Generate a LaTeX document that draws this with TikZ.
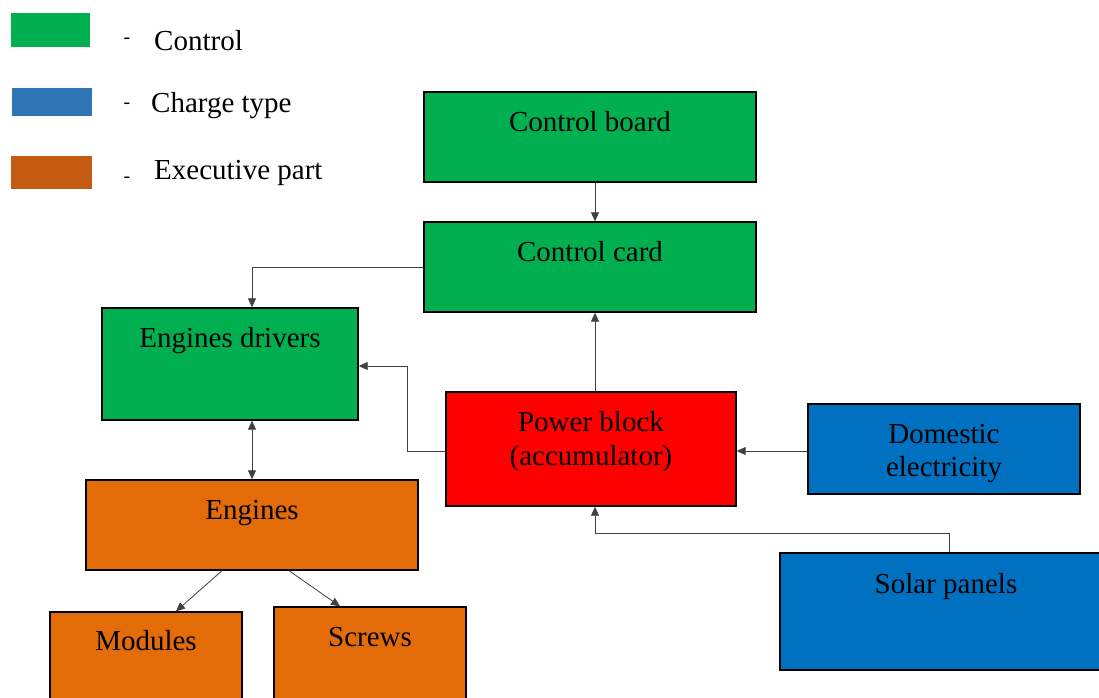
\documentclass[tikz,border=0pt]{standalone}
\usepackage{fontspec}
\setmainfont{Liberation Serif}
\usetikzlibrary{arrows.meta}
\definecolor{cgreen}{HTML}{00B050}
\definecolor{cblue}{HTML}{0070C0}
\definecolor{cred}{HTML}{FF0000}
\definecolor{corange}{HTML}{E36C09}
\definecolor{lgreen}{HTML}{00B050}
\definecolor{lblue}{HTML}{2E75B6}
\definecolor{lorange}{HTML}{C55A11}
\definecolor{wire}{HTML}{404040}
\tikzset{
  box/.style={draw=black, line width=1.4pt, inner sep=0pt},
  txt/.style={font=\fontsize{29}{33}\selectfont, inner sep=0pt, anchor=base},
  dsh/.style={font=\fontsize{20}{22}\selectfont, inner sep=0pt, anchor=base},
  conn/.style={draw=wire, line width=0.8pt, -{Triangle[length=9pt,width=8pt]}},
  conn2/.style={draw=wire, line width=0.8pt, {Triangle[length=9pt,width=8pt]}-{Triangle[length=9pt,width=8pt]}}
}
\begin{document}
\begin{tikzpicture}[x=1pt,y=-1pt]
\useasboundingbox (0,0) rectangle (1099,697);
\clip (0,0) rectangle (1099,697);
% legend
\path[fill=lgreen] (11,13) rectangle (90,47);
\path[fill=lblue] (12,88) rectangle (92,116);
\path[fill=lorange] (11,156) rectangle (92,189);
\node[dsh] (d1) at (127,43) {-};
\node[dsh] (d2) at (127,108) {-};
\node[dsh] (d3) at (127,182) {-};
\node[txt, anchor=base west] (l1) at (154,50) {Control};
\node[txt, anchor=base west] (l2) at (151,112) {Charge type};
\node[txt, anchor=base west] (l3) at (154,179) {Executive part};
% boxes
\node[box, fill=cgreen, minimum width=332pt, minimum height=90pt] (cb) at (590,137) {};
\node[box, fill=cgreen, minimum width=332pt, minimum height=90pt] (cc) at (590,267) {};
\node[box, fill=cgreen, minimum width=256pt, minimum height=112pt] (ed) at (230,364) {};
\node[box, fill=cred, minimum width=290pt, minimum height=114pt] (pb) at (591,449) {};
\node[box, fill=cblue, minimum width=272pt, minimum height=90pt] (de) at (944,449) {};
\node[box, fill=corange, minimum width=332pt, minimum height=90pt] (en) at (252,525) {};
\node[box, fill=corange, minimum width=192pt, minimum height=120pt] (mo) at (146,672) {};
\node[box, fill=corange, minimum width=192pt, minimum height=125pt] (sc) at (370,669.5) {};
\node[box, fill=cblue, minimum width=340pt, minimum height=117pt] (sp) at (950,611.5) {};
% texts
\node[txt] (tcb) at (590,131) {Control board};
\node[txt] (tcc) at (590,261) {Control card};
\node[txt] (ted) at (230,347) {Engines drivers};
\node[txt] (tpb1) at (591,431) {Power block};
\node[txt] (tpb2) at (591,465) {(accumulator)};
\node[txt] (tde1) at (944,443) {Domestic};
\node[txt] (tde2) at (944,476) {electricity};
\node[txt] (ten) at (252,519) {Engines};
\node[txt] (tmo) at (146,650) {Modules};
\node[txt] (tsc) at (370,646) {Screws};
\node[txt] (tsp) at (946,593) {Solar panels};
% connectors
\draw[conn] (cb.south -| 595,0) -- (cc.north -| 595,0);
\draw[conn] (cc.west |- 0,267) -| (ed.north -| 252,0);
\draw[conn] (pb.north -| 595,0) -- (cc.south -| 595,0);
\draw[conn] (pb.west |- 0,451) -| (407,366) -- (ed.east |- 0,366);
\draw[conn] (de.west |- 0,451) -- (pb.east |- 0,451);
\draw[conn] (sp.north -| 949,0) |- (595,533) -- (pb.south -| 595,0);
\draw[conn2] (ed.south -| 252,0) -- (en.north -| 252,0);
\draw[conn] (en.south -| 222,0) -- (mo.north -| 176,0);
\draw[conn] (en.south -| 289,0) -- (sc.north -| 340,0);
\end{tikzpicture}
\end{document}
